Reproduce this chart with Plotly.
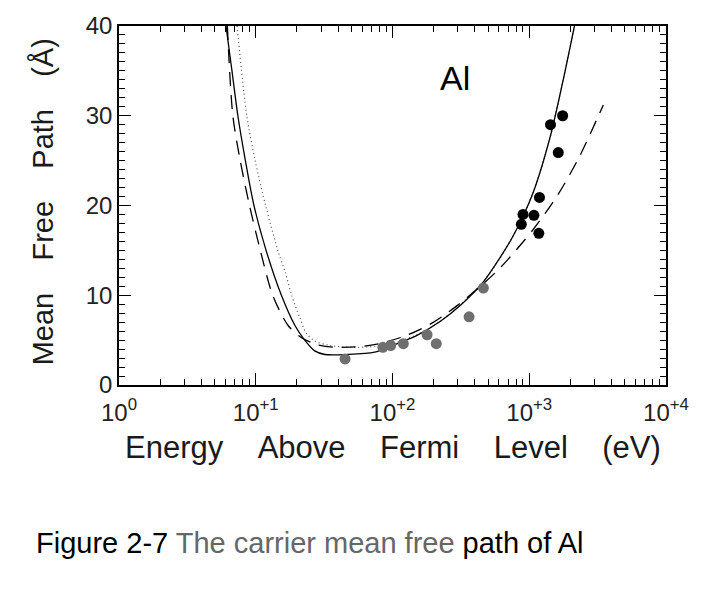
import plotly.graph_objects as go

# ---- data ----
solid_E = [6.06, 6.7, 7.4, 8.4, 9.7, 11.9, 15.4, 19.4, 22.3, 27, 32, 47, 74, 100, 150, 224, 320, 462, 600, 762, 1065, 1420, 1760, 2140]
solid_L = [40, 35, 30, 25, 20, 15, 10, 6.6, 5.2, 3.8, 3.4, 3.4, 3.65, 4.4, 5.5, 7.1, 9.0, 11.5, 14.0, 16.6, 21.4, 27.6, 33.8, 40]

dash_E = [6.2, 6.8, 7.7, 9.0, 10.8, 13.3, 17.3, 21.5, 28, 38, 60, 85, 130, 200, 300, 462, 626, 1065, 1620, 2320, 3230, 3480]
dash_L = [40, 30, 25, 20, 15, 10, 6.6, 5.3, 4.5, 4.2, 4.3, 4.7, 5.6, 7.0, 8.9, 11.3, 13.2, 17.3, 21.2, 25.4, 30.1, 31.2]

dot_E = [7.3, 8.6, 9.9, 11.8, 14.5, 16.4, 18.3, 21, 23.4, 27, 35, 50, 75, 100, 150, 224, 462, 762, 1065, 1420, 1760, 2140]
dot_L = [40, 30, 25, 20, 15, 12.6, 10, 7.5, 5.8, 4.9, 4.4, 4.2, 4.3, 4.6, 5.6, 7.1, 11.5, 16.6, 21.4, 27.6, 33.8, 40]

gray_E = [45, 85, 97, 120, 179, 209, 363, 462]
gray_L = [2.9, 4.2, 4.4, 4.6, 5.6, 4.6, 7.6, 10.8]

black_E = [1755, 1430, 1630, 1188, 900, 1082, 875, 1175]
black_L = [30.0, 29.0, 25.9, 20.9, 19.0, 18.9, 17.9, 16.9]

x_tickvals = [1, 10, 100, 1000, 10000]
x_ticktext = ["10<sup>0</sup>", "10<sup>+1</sup>", "10<sup>+2</sup>", "10<sup>+3</sup>", "10<sup>+4</sup>"]
x_minor = [m * 10 ** d for d in range(4) for m in range(2, 10)]
y_tickvals = [0, 10, 20, 30, 40]

FONT = "Liberation Sans"

fig = go.Figure()
fig.add_trace(go.Scatter(x=dot_E, y=dot_L, mode="lines", line=dict(color="#555", width=1.2, dash="1px,3px", shape="spline", smoothing=0.8)))
fig.add_trace(go.Scatter(x=dash_E, y=dash_L, mode="lines", line=dict(color="black", width=1.3, dash="14px,9px", shape="spline", smoothing=0.8)))
fig.add_trace(go.Scatter(x=solid_E, y=solid_L, mode="lines", line=dict(color="black", width=1.3, shape="spline", smoothing=0.8)))
fig.add_trace(go.Scatter(x=gray_E, y=gray_L, mode="markers", marker=dict(color="#6f6f6f", size=11, line=dict(width=0))))
fig.add_trace(go.Scatter(x=black_E, y=black_L, mode="markers", marker=dict(color="black", size=11, line=dict(width=0))))

axis_common = dict(
    ticks="inside", tickcolor="black", tickwidth=1.3, ticklen=12,
    showline=True, linecolor="black", linewidth=1.5, mirror="ticks",
    showgrid=False, zeroline=False,
    tickfont=dict(family=FONT, size=24, color="#222"),
)

fig.update_layout(
    width=701, height=592,
    margin=dict(l=119, r=30, t=20, b=207),
    paper_bgcolor="white", plot_bgcolor="white",
    showlegend=False,
    xaxis=dict(type="log", range=[0, 4], tickmode="array", tickvals=x_tickvals, ticktext=x_ticktext,
               ticklabelstandoff=5,
               minor=dict(tickmode="array", tickvals=x_minor, ticks="inside", ticklen=6, tickcolor="black", tickwidth=1, showgrid=False),
               **axis_common),
    yaxis=dict(range=[0, 40], tickmode="array", tickvals=y_tickvals,
               minor=dict(dtick=1, ticks="inside", ticklen=6, tickcolor="black", tickwidth=1, showgrid=False),
               **axis_common),
)

SP = "\u00a0" * 4
SPY = "\u00a0" * 4
fig.add_annotation(x=0.5, y=-0.175, xref="paper", yref="paper", showarrow=False,
                   text=f"Energy{SP}Above{SP}Fermi{SP}Level{SP}(eV)",
                   font=dict(family=FONT, size=31, color="#1a1a1a"), xanchor="center", yanchor="middle")
fig.add_annotation(x=-0.14, y=0.51, xref="paper", yref="paper", showarrow=False, textangle=-90,
                   text=f"Mean{SPY}Free{SPY}Path{SPY}(Å)",
                   font=dict(family=FONT, size=29, color="#1a1a1a"), xanchor="center", yanchor="middle")
fig.add_annotation(x=0.615, y=0.855, xref="paper", yref="paper", showarrow=False, text="Al",
                   font=dict(family=FONT, size=34, color="black"), xanchor="center", yanchor="middle")
fig.add_annotation(x=0.35, y=-0.44, xref="paper", yref="paper", showarrow=False,
                   text="Figure 2-7 <span style='color:#666'>The carrier mean free</span> path of Al",
                   font=dict(family=FONT, size=29, color="black"), xanchor="center", yanchor="middle")

fig.write_html("out.html")
